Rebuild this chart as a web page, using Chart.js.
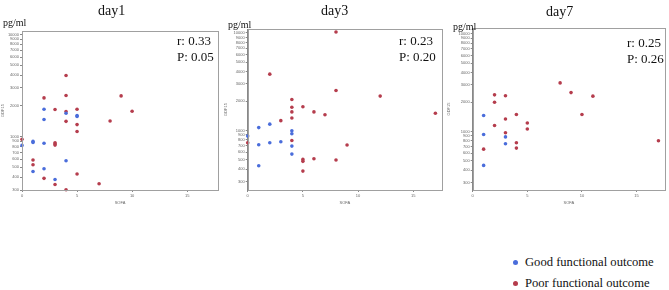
<!DOCTYPE html>
<html>
<head>
<meta charset="utf-8">
<script src="https://cdn.jsdelivr.net/npm/chart.js@4.4.0/dist/chart.umd.min.js"></script>
<style>
  body { margin: 0; background: #fff; width: 669px; height: 290px; position: relative; overflow: hidden; }
  canvas { position: absolute; top: 0; }
  .t { position: absolute; font-family: "Liberation Serif", "DejaVu Serif", serif; color: #111; white-space: nowrap; line-height: 1; }
  .day { font-size: 14px; }
  .unit { font-size: 10px; }
  .stat { font-size: 13px; }
  .leg { font-size: 12.6px; }
  .dot { position: absolute; width: 5px; height: 5px; border-radius: 50%; }
</style>
</head>
<body>
<canvas id="c1"></canvas>
<canvas id="c2"></canvas>
<canvas id="c3"></canvas>

<div class="t day" style="left:98px;top:4px">day1</div>
<div class="t day" style="left:321px;top:4px">day3</div>
<div class="t day" style="left:546px;top:5px">day7</div>
<div class="t unit" style="left:3px;top:18px">pg/ml</div>
<div class="t unit" style="left:228px;top:20px">pg/ml</div>
<div class="t unit" style="left:453px;top:22px">pg/ml</div>
<div class="t stat" style="left:177px;top:34px">r: 0.33</div>
<div class="t stat" style="left:177px;top:50px">P: 0.05</div>
<div class="t stat" style="left:399px;top:34px">r: 0.23</div>
<div class="t stat" style="left:399px;top:50px">P: 0.20</div>
<div class="t stat" style="left:627px;top:36px">r: 0.25</div>
<div class="t stat" style="left:627px;top:52px">P: 0.26</div>

<div class="dot" style="left:513px;top:260px;background:#4a6ddb"></div>
<div class="t leg" style="left:525px;top:256px">Good functional outcome</div>
<div class="dot" style="left:513px;top:281px;background:#b53d4d"></div>
<div class="t leg" style="left:525px;top:277px">Poor functional outcome</div>

<script>
// day1
const day1GoodSofa = [2, 2, 4, 5, 5, 1, 1, 2, 0, 4, 1, 2, 3];
const day1GoodGdf = [1850, 1470, 1690, 1610, 1570, 900, 875, 860, 820, 580, 455, 485, 380];
const day1PoorSofa = [4, 2, 4, 9, 3, 5, 4, 10, 4, 8, 5, 5, 0, 3, 3, 3, 1, 1, 2, 3, 5, 7, 4];
const day1PoorGdf = [3960, 2390, 2520, 2500, 1840, 1850, 1760, 1770, 1410, 1420, 1310, 1120, 940, 870, 845, 825, 590, 530, 390, 340, 430, 345, 302];

// day3
const day3GoodSofa = [1, 2, 4, 4, 0, 1, 2, 3, 4, 4, 1];
const day3GoodGdf = [1070, 1160, 990, 925, 875, 713, 748, 765, 691, 572, 434];
const day3PoorSofa = [8, 2, 8, 12, 4, 4, 5, 6, 4, 7, 4, 3, 17, 4, 0, 9, 6, 5, 5, 8, 5];
const day3PoorGdf = [10230, 3780, 2570, 2250, 2080, 1730, 1750, 1550, 1550, 1450, 1340, 1260, 1500, 790, 748, 708, 513, 505, 482, 497, 383];

// day7
const day7GoodSofa = [1, 1, 3, 3, 1];
const day7GoodGdf = [1460, 930, 880, 750, 450];
const day7PoorSofa = [8, 9, 11, 2, 3, 2, 4, 10, 3, 5, 2, 5, 3, 4, 4, 1, 17];
const day7PoorGdf = [3140, 2500, 2300, 2370, 2320, 1990, 1490, 1490, 1340, 1220, 1150, 1060, 970, 766, 676, 660, 803];

const yTickValues = [300, 400, 500, 600, 700, 800, 900, 1000, 2000, 3000, 4000, 5000, 6000, 7000, 8000, 9000, 10000];
const xTickValues = [0, 5, 10, 15];

const goodColor = '#4a6ddb';
const poorColor = '#b53d4d';

function toPoints(xs, ys) {
  return xs.map((x, i) => ({ x: x, y: ys[i] }));
}

// frame round the plot area
const framePlugin = {
  id: 'frame',
  afterDraw(chart) {
    const a = chart.chartArea;
    const ctx = chart.ctx;
    ctx.save();
    ctx.strokeStyle = '#a0a0a0';
    ctx.lineWidth = 1;
    ctx.strokeRect(Math.round(a.left) + 0.5, Math.round(a.top) + 0.5, Math.round(a.right - a.left), Math.round(a.bottom - a.top));
    ctx.restore();
  }
};

function makeChart(id, left, width, yWidth, top, padRight, xMax, yMin, yMax, good, poor) {
  const cv = document.getElementById(id);
  cv.style.left = left + 'px';
  cv.width = width;
  cv.height = 205;
  cv.style.width = width + 'px';
  cv.style.height = '205px';
  const tickFont = { family: 'Liberation Sans, Arial, sans-serif', size: 4 };
  return new Chart(cv, {
    type: 'scatter',
    data: {
      datasets: [
        { label: 'Good functional outcome', data: good, backgroundColor: goodColor, borderColor: goodColor, pointRadius: 1.8, borderWidth: 0, clip: false },
        { label: 'Poor functional outcome', data: poor, backgroundColor: poorColor, borderColor: poorColor, pointRadius: 1.8, borderWidth: 0, clip: false }
      ]
    },
    options: {
      responsive: false,
      animation: false,
      devicePixelRatio: 1,
      layout: { padding: { left: 0, right: padRight, top: top, bottom: 0 } },
      plugins: { legend: { display: false }, tooltip: { enabled: false } },
      scales: {
        x: {
          type: 'linear',
          min: 0,
          max: xMax,
          afterBuildTicks: s => { s.ticks = xTickValues.map(v => ({ value: v })); },
          afterFit: s => { s.height = 15; },
          grid: { drawOnChartArea: false, drawTicks: true, tickLength: 2, color: '#888' },
          border: { color: '#888' },
          ticks: { font: tickFont, color: '#666', padding: 1, maxRotation: 0 },
          title: { display: true, text: 'SOFA', font: tickFont, color: '#666', padding: 0 }
        },
        y: {
          type: 'logarithmic',
          min: yMin,
          max: yMax,
          afterBuildTicks: s => { s.ticks = yTickValues.map(v => ({ value: v })); },
          afterFit: s => { s.width = yWidth; },
          grid: { drawOnChartArea: false, drawTicks: true, tickLength: 2, color: '#888' },
          border: { color: '#888' },
          ticks: { font: tickFont, color: '#666', padding: 1, autoSkip: false, callback: v => String(v) },
          title: { display: true, text: 'GDF15', font: tickFont, color: '#666', padding: 0 }
        }
      }
    },
    plugins: [framePlugin]
  });
}

makeChart('c1', 0, 223, 22, 31, 5, 17.8, 300, 10800,
  toPoints(day1GoodSofa, day1GoodGdf), toPoints(day1PoorSofa, day1PoorGdf));
makeChart('c2', 223, 223, 24.7, 29, 3, 17.6, 245, 10980,
  toPoints(day3GoodSofa, day3GoodGdf), toPoints(day3PoorSofa, day3PoorGdf));
makeChart('c3', 446, 223, 26.7, 28, 1, 17.6, 252, 11450,
  toPoints(day7GoodSofa, day7GoodGdf), toPoints(day7PoorSofa, day7PoorGdf));
</script>
</body>
</html>
